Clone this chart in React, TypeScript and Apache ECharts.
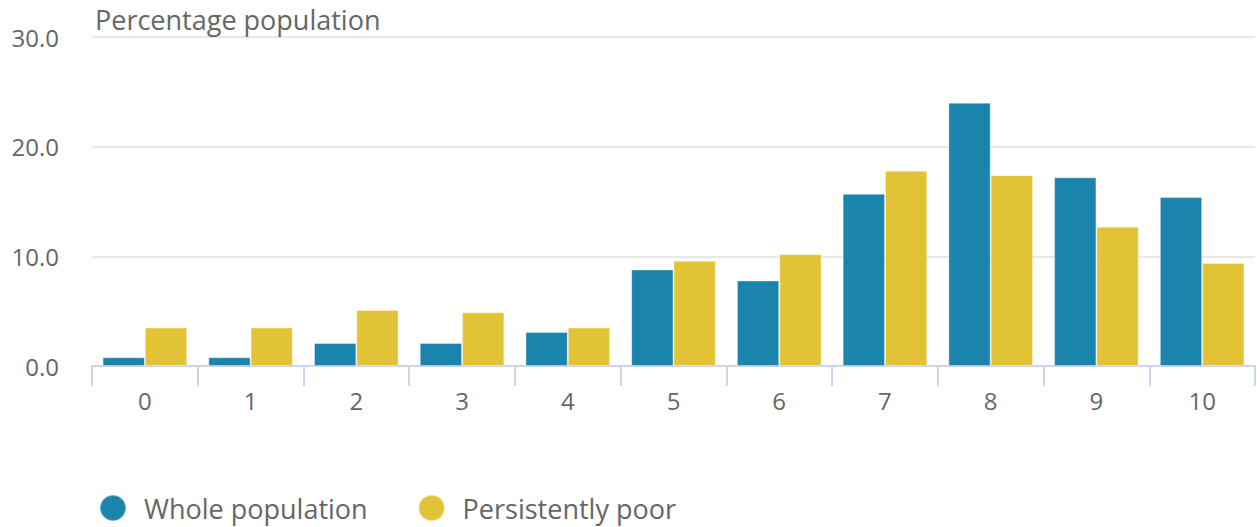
import React, { useEffect, useRef } from "react";
import * as echarts from "echarts";

const categories = ["0", "1", "2", "3", "4", "5", "6", "7", "8", "9", "10"];
const wholePopulation = [0.8, 0.8, 2.1, 2.1, 3.1, 8.8, 7.8, 15.7, 24.0, 17.2, 15.4];
const persistentlyPoor = [3.5, 3.5, 5.1, 4.9, 3.5, 9.6, 10.2, 17.8, 17.4, 12.7, 9.4];
const seriesNames = ["Whole population", "Persistently poor"];
const yTicks = { min: 0, max: 30, interval: 10 };
const axisTitle = "Percentage population";

const FONT = "'Open Sans', sans-serif";
const TEXT = "#666666";

export default function App() {
  const ref = useRef<HTMLDivElement>(null);
  useEffect(() => {
    if (!ref.current) return;
    const chart = echarts.init(ref.current, undefined, { renderer: "svg" });
    chart.setOption({
      animation: false,
      textStyle: { fontFamily: FONT },
      title: {
        text: axisTitle,
        left: 90,
        top: 1,
        textStyle: { fontFamily: FONT, fontSize: 27, fontWeight: "normal", color: TEXT },
      },
      grid: { left: 92, right: 2, top: 37, bottom: 161, containLabel: false },
      legend: {
        left: 94,
        top: 488,
        icon: "circle",
        itemWidth: 52,
        itemHeight: 26,
        itemGap: 50,
        textStyle: { fontFamily: FONT, fontSize: 27, color: TEXT, lineHeight: 30 },
        data: seriesNames,
      },
      xAxis: {
        type: "category",
        data: categories,
        axisLine: { show: true, lineStyle: { color: "#ccd6eb", width: 2 } },
        axisTick: { show: true, length: 20, interval: 0, lineStyle: { color: "#ccd6eb", width: 2 } },
        axisLabel: { fontFamily: FONT, fontSize: 24, color: TEXT, margin: 22 },
      },
      yAxis: {
        type: "value",
        min: yTicks.min,
        max: yTicks.max,
        interval: yTicks.interval,
        axisLine: { show: false },
        axisTick: { show: false },
        splitLine: { lineStyle: { color: "#e8e8e8", width: 2 } },
        axisLabel: {
          fontFamily: FONT,
          fontSize: 24,
          color: TEXT,
          margin: 33,
          padding: [6, 0, 0, 0],
          formatter: (v: number) => v.toFixed(1),
        },
      },
      series: [
        {
          name: seriesNames[0],
          type: "bar",
          data: wholePopulation,
          barGap: "0%",
          barCategoryGap: "20%",
          itemStyle: { color: "#1a84ad", borderColor: "rgba(255,255,255,0.35)", borderWidth: 1 },
        },
        {
          name: seriesNames[1],
          type: "bar",
          data: persistentlyPoor,
          barGap: "0%",
          barCategoryGap: "20%",
          itemStyle: { color: "#e3c336", borderColor: "rgba(255,255,255,0.35)", borderWidth: 1 },
        },
      ],
    });
    return () => chart.dispose();
  }, []);
  return (
    <div
      ref={ref}
      style={{ position: "absolute", left: 0, top: 0, width: 1257, height: 527, background: "#fff" }}
    />
  );
}
